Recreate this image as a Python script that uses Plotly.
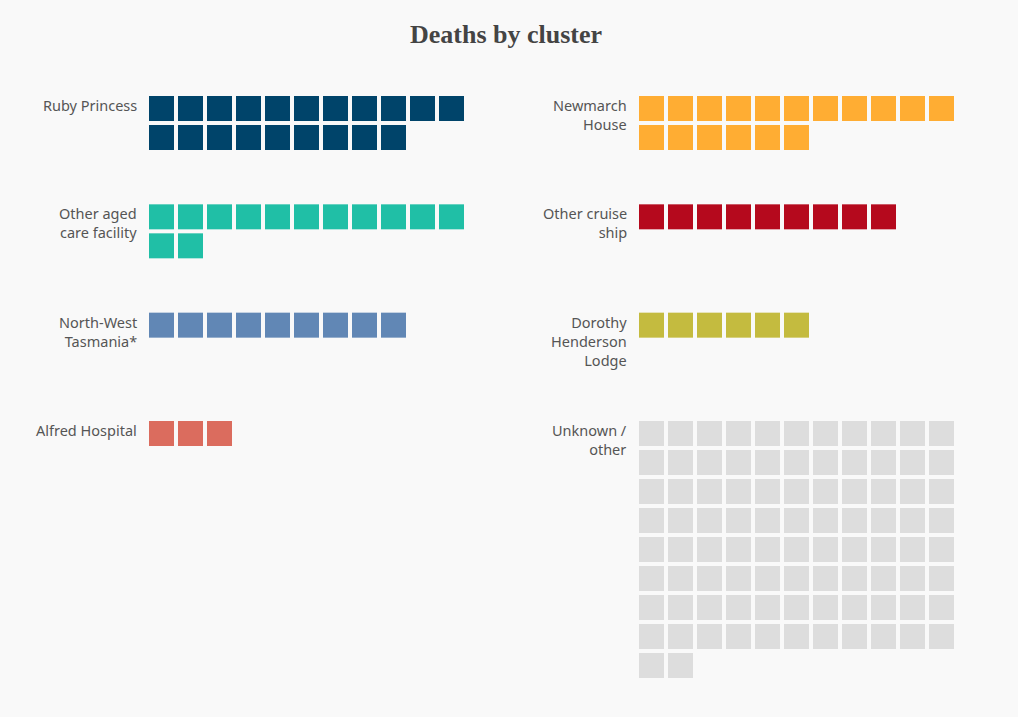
import plotly.graph_objects as go

# Data (row-major order in a two-column layout)
clusters = ["Ruby Princess", "Newmarch<br>House", "Other aged<br>care facility", "Other cruise<br>ship",
            "North-West<br>Tasmania*", "Dorothy<br>Henderson<br>Lodge", "Alfred Hospital", "Unknown /<br>other"]
deaths = [20, 17, 13, 9, 9, 6, 3, 90]
colors = ["#00446a", "#ffad33", "#20bfa6", "#b5091d", "#6187b5", "#c4bb3f", "#db6c5e", "#dddddd"]
title = "Deaths by cluster"

W, H = 1018, 717
PER_ROW = 11
PITCH = 29
CELL = 25
COL_X0 = [149, 639]
LABEL_X = [137.5, 627.5]
ROW_Y0 = 96
ROW_STEP = 108.33

fig = go.Figure()
annotations = []
for i, (name, n, c) in enumerate(zip(clusters, deaths, colors)):
    col, row = i % 2, i // 2
    x0 = COL_X0[col]
    y0 = ROW_Y0 + row * ROW_STEP
    xs = [x0 + (k % PER_ROW) * PITCH + CELL / 2 for k in range(n)]
    ys = [y0 + (k // PER_ROW) * PITCH + CELL / 2 for k in range(n)]
    fig.add_trace(go.Scatter(
        x=xs, y=ys, mode="markers", name=name.replace("<br>", " "),
        marker=dict(symbol="square", size=CELL, color=c, line=dict(width=0)),
        hoverinfo="skip", showlegend=False,
    ))
    annotations.append(dict(
        x=LABEL_X[col] + 1.5, y=y0 - 3, xref="x", yref="y", text=name, showarrow=False,
        xanchor="right", yanchor="top", align="right",
        font=dict(family="Noto Sans", size=14.5, color="#555555"),
    ))

annotations.append(dict(
    x=506, y=34, xref="x", yref="y", text=title, showarrow=False,
    xanchor="center", yanchor="middle",
    font=dict(family="Liberation Serif", size=26, color="#444444", weight="bold"),
))

fig.update_layout(
    width=W, height=H,
    margin=dict(l=0, r=0, t=0, b=0),
    paper_bgcolor="#f9f9f9", plot_bgcolor="#f9f9f9",
    xaxis=dict(range=[0, W], visible=False, fixedrange=True),
    yaxis=dict(range=[H, 0], visible=False, fixedrange=True),
    annotations=annotations,
)

fig.write_html(
    "out.html",
    config={"displayModeBar": False},
    post_script="document.body.style.margin='0';document.body.style.overflow='hidden';"
                "document.body.style.background='#f9f9f9';",
)
